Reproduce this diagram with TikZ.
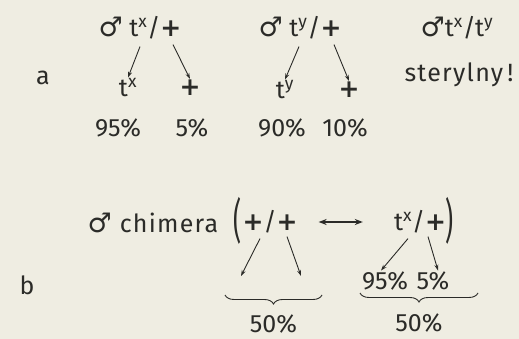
\documentclass[tikz,border=0pt]{standalone}
\usepackage{fontspec}
\setmainfont{Fira Sans}
\newfontfamily\symfont{DejaVu Sans}
\usetikzlibrary{arrows.meta, positioning, calc, decorations.pathreplacing}
\definecolor{paper}{HTML}{EFEDE2}
\definecolor{ink}{HTML}{2B2B28}
\newcommand{\malesym}{{\symfont\fontsize{27}{30}\selectfont ♂}}
\newcommand{\pl}{{\symfont\bfseries +}}
\newcommand{\tsup}[1]{t\textsuperscript{#1}}
\newcommand{\tallpar}[1]{\scalebox{1}[1.9]{#1}}

\begin{document}
\begin{tikzpicture}[
    x=1pt, y=-1pt,
    txt/.style={text=ink, font=\fontsize{25}{29}\selectfont, inner sep=1pt},
    wide/.style={txt, font=\fontsize{25}{29}\selectfont\addfontfeature{LetterSpace=5}},
    arr/.style={draw=ink, line width=0.9pt, -{Stealth[length=6pt,width=4pt]}},
    dbl/.style={draw=ink, line width=1.4pt, {Stealth[length=8pt,width=6pt]}-{Stealth[length=8pt,width=6pt]}},
    brc/.style={draw=ink, line width=0.9pt, decorate, decoration={brace, mirror, amplitude=9pt}}
]
    \fill[paper] (0,0) rectangle (519,339);
    \useasboundingbox (0,0) rectangle (519,339);

    % part a
    \node[txt] (lbla) at (43,78) {a};

    \node[txt] (gx) at (140,28) {\malesym\ \tsup{x}/\pl};
    \node[txt] (cx) at (128,88) {\tsup{x}};
    \node[txt] (cxp) at (190,88) {\pl};
    \node[txt] (px95) at (118,128) {95\%};
    \node[txt] (px5) at (192,128) {5\%};
    \draw[arr] ($(gx.south)+(0,6)$) -- (cx.north);
    \draw[arr] ($(gx.south)+(33,4)$) -- (cxp.north);

    \node[txt] (gy) at (300,28) {\malesym\ \tsup{y}/\pl};
    \node[txt] (cy) at (285,90) {\tsup{y}};
    \node[txt] (cyp) at (349,90) {\pl};
    \node[txt] (py90) at (282,128) {90\%};
    \node[txt] (py10) at (345,128) {10\%};
    \draw[arr] ($(gy.south)+(-1,6)$) -- (cy.north);
    \draw[arr] ($(gy.south)+(34,4)$) -- (cyp.north);

    \node[txt] (gxy) at (457,28) {\malesym\tsup{x}/\tsup{y}};
    \node[wide] (ster) at (459,75) {sterylny\,!};

    % part b
    \node[txt] (lblb) at (27,285) {b};
    \node[wide] (chim) at (153,223) {\malesym\ chimera};
    \node[txt] (lpar) at (238,221) {\tallpar{(}};
    \node[txt] (pp) at (270,222) {\pl/\pl};
    \node[txt] (tp) at (420,222) {\tsup{x}/\pl};
    \node[txt] (rpar) at (450,221) {\tallpar{)}};
    \draw[dbl] ($(pp.east)+(20,0)$) -- ($(tp.west)+(-30,0)$);

    \coordinate (ppl) at (241,276);
    \coordinate (ppr) at (301,276);
    \draw[arr] ($(pp.south)+(-10,4)$) -- (ppl);
    \draw[arr] ($(pp.south)+(17,2)$) -- (ppr);

    \node[txt] (tp95) at (385,281) {95\%};
    \node[txt] (tp5) at (433,281) {5\%};
    \draw[arr] ($(tp.south)+(-12,4)$) -- ([xshift=-4pt]tp95.north);
    \draw[arr] ($(tp.south)+(8,2)$) -- ([xshift=5pt]tp5.north);

    \coordinate (bl1) at (225,295);
    \coordinate (bl2) at (322,295);
    \coordinate (br1) at (360,293);
    \coordinate (br2) at (478,293);
    \draw[brc] (bl1) -- (bl2);
    \draw[brc] (br1) -- (br2);
    \node[txt] (ml) at ($(bl1)!0.5!(bl2)+(0,29)$) {50\%};
    \node[txt] (mr) at ($(br1)!0.5!(br2)+(0,30)$) {50\%};
\end{tikzpicture}
\end{document}
